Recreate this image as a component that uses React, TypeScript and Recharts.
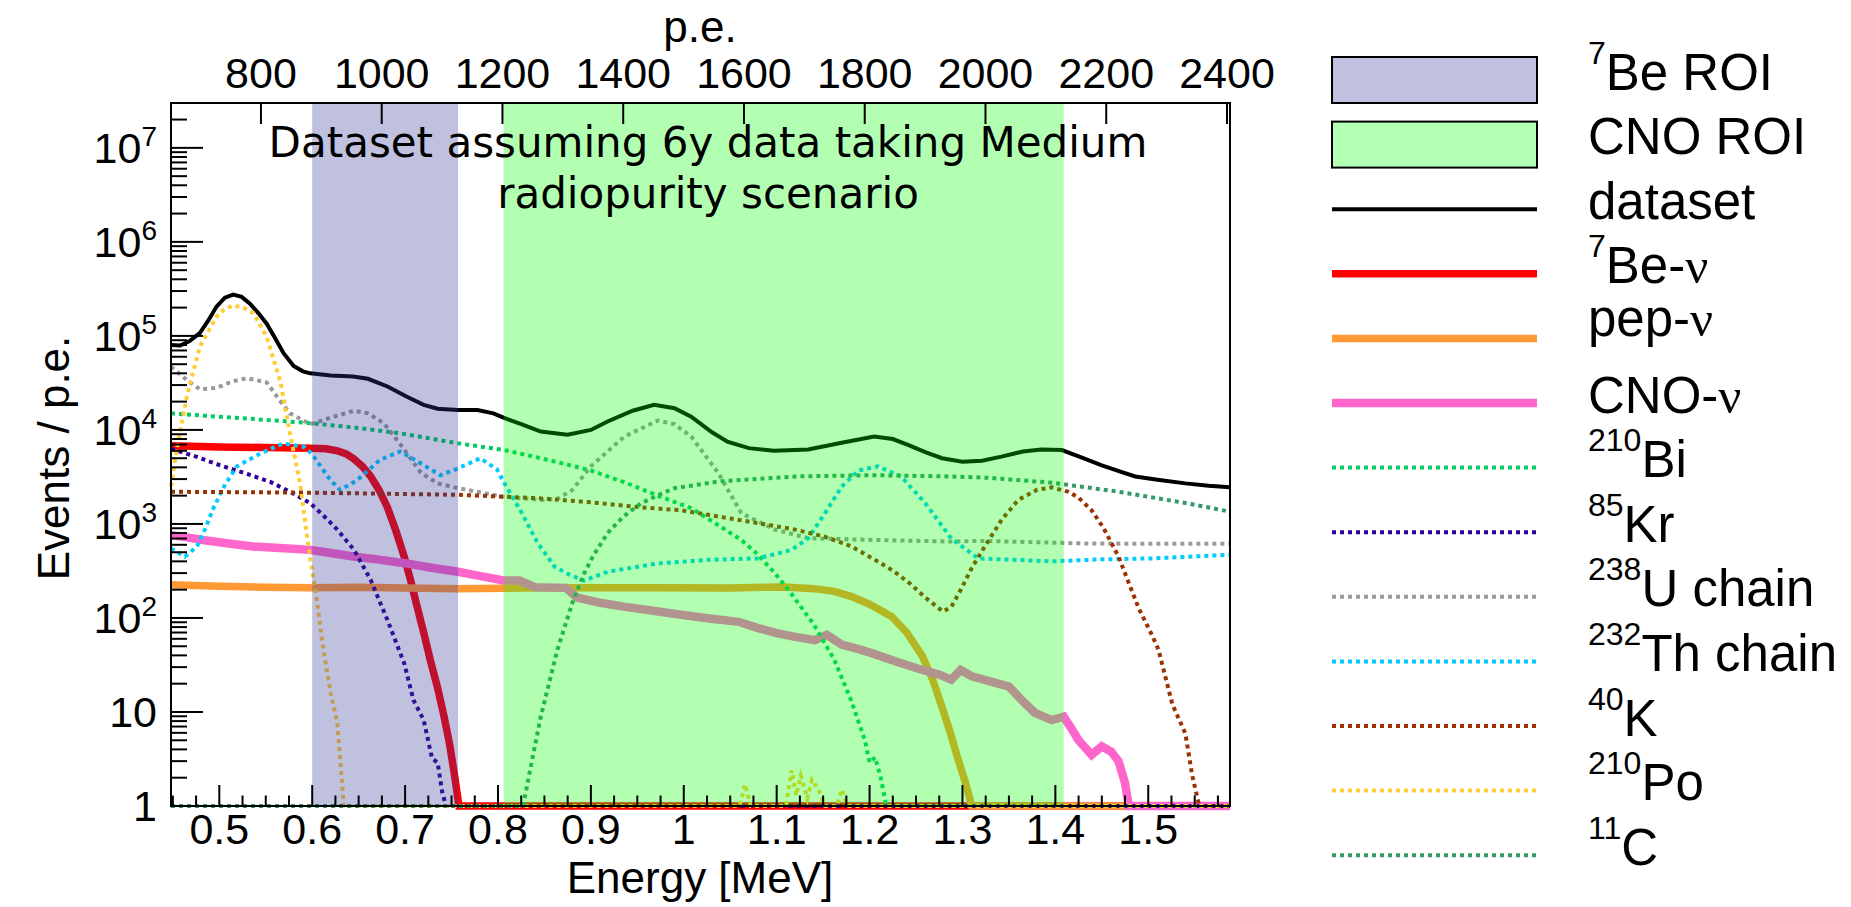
import { LineChart, Line, XAxis, YAxis, ReferenceArea } from "recharts";

// energy axis (MeV), p.e. axis on top, log y axis
const xDomain = [0.448, 1.588];
const peDomain = [651, 2405];
const yDomain = [1, 3.0e7];

const xMajorTicks = [0.5, 0.6, 0.7, 0.8, 0.9, 1.0, 1.1, 1.2, 1.3, 1.4, 1.5];
const peTicks = [800, 1000, 1200, 1400, 1600, 1800, 2000, 2200, 2400];
const yMajorTicks = [1, 10, 100, 1e3, 1e4, 1e5, 1e6, 1e7];

// regions of interest (MeV)
const beRoi = [0.6, 0.757];
const cnoRoi = [0.806, 1.409];

// [energy MeV, events / p.e.]
const dataset = [
  [0.448, 8.0e4], [0.458, 7.9e4], [0.468, 8.8e4], [0.479, 1.07e5], [0.488, 1.45e5], [0.497, 2.05e5],
  [0.506, 2.55e5], [0.515, 2.75e5], [0.524, 2.6e5], [0.533, 2.2e5], [0.542, 1.75e5], [0.551, 1.35e5],
  [0.56, 9.5e4], [0.569, 6.6e4], [0.58, 4.8e4], [0.59, 4.2e4], [0.598, 4.0e4], [0.62, 3.8e4],
  [0.644, 3.7e4], [0.66, 3.5e4], [0.681, 2.9e4], [0.702, 2.25e4], [0.72, 1.85e4], [0.735, 1.68e4],
  [0.757, 1.63e4], [0.778, 1.63e4], [0.795, 1.5e4], [0.806, 1.35e4], [0.825, 1.15e4], [0.846, 9.6e3],
  [0.875, 8.9e3], [0.9, 1.0e4], [0.918, 1.23e4], [0.945, 1.6e4], [0.968, 1.85e4], [0.99, 1.7e4],
  [1.008, 1.38e4], [1.03, 9.5e3], [1.047, 7.5e3], [1.07, 6.4e3], [1.097, 6.0e3], [1.134, 6.2e3],
  [1.17, 7.3e3], [1.205, 8.5e3], [1.225, 8.0e3], [1.242, 6.9e3], [1.26, 5.8e3], [1.278, 5.0e3],
  [1.3, 4.6e3], [1.321, 4.7e3], [1.342, 5.2e3], [1.365, 5.9e3], [1.385, 6.2e3], [1.407, 6.1e3],
  [1.43, 5.0e3], [1.45, 4.2e3], [1.47, 3.6e3], [1.486, 3.2e3], [1.51, 2.95e3], [1.54, 2.7e3],
  [1.565, 2.55e3], [1.588, 2.45e3],
];

const be7 = [
  [0.448, 6.8e3], [0.5, 6.6e3], [0.55, 6.5e3], [0.598, 6.4e3], [0.615, 6.3e3], [0.627, 6.0e3],
  [0.636, 5.6e3], [0.644, 5.0e3], [0.654, 4.1e3], [0.663, 3.2e3], [0.672, 2.3e3], [0.681, 1.5e3],
  [0.69, 850], [0.699, 450], [0.706, 250], [0.713, 131], [0.72, 70], [0.727, 36], [0.735, 18],
  [0.742, 8.9], [0.748, 4.5], [0.753, 2.2], [0.758, 1], [1.588, 1],
];

const pep = [
  [0.448, 225], [0.5, 218], [0.55, 212], [0.6, 210], [0.65, 212], [0.7, 208], [0.757, 204],
  [0.806, 207], [0.85, 210], [0.911, 209], [0.97, 210], [1.05, 208], [1.108, 214], [1.14, 205],
  [1.162, 192], [1.18, 170], [1.2, 140], [1.224, 103], [1.24, 70], [1.257, 39], [1.268, 22],
  [1.277, 12], [1.287, 6], [1.295, 3.2], [1.303, 1.8], [1.31, 1], [1.588, 1],
];

const cno = [
  [0.448, 760], [0.465, 720], [0.482, 675], [0.51, 620], [0.536, 575], [0.565, 555], [0.598, 530],
  [0.62, 490], [0.644, 450], [0.67, 420], [0.698, 385], [0.73, 340], [0.757, 310], [0.78, 280],
  [0.806, 250], [0.823, 250], [0.84, 212], [0.873, 209], [0.885, 165], [0.91, 145], [0.935, 132],
  [0.965, 120], [0.997, 108], [1.03, 98], [1.059, 91], [1.08, 78], [1.1, 69], [1.12, 63],
  [1.141, 58], [1.154, 66], [1.17, 52], [1.19, 46], [1.203, 42], [1.23, 34], [1.257, 28],
  [1.275, 25], [1.288, 22], [1.298, 28], [1.31, 24], [1.324, 22], [1.35, 18.6], [1.365, 13],
  [1.378, 9.8], [1.396, 8.2], [1.409, 8.9], [1.418, 6.5], [1.425, 5.0], [1.439, 3.5], [1.45, 4.3],
  [1.46, 3.8], [1.468, 3.0], [1.475, 1.75], [1.479, 1], [1.588, 1],
];

const bi210 = [
  [0.448, 1.5e4], [0.5, 1.38e4], [0.55, 1.28e4], [0.598, 1.18e4], [0.65, 1.05e4], [0.695, 9.2e3],
  [0.757, 7.2e3], [0.807, 6.1e3], [0.846, 5.0e3], [0.878, 4.2e3], [0.9, 3.7e3], [0.935, 2.8e3],
  [0.972, 2.0e3], [1.008, 1.47e3], [1.035, 1.0e3], [1.062, 675], [1.079, 480], [1.098, 300],
  [1.116, 180], [1.14, 85], [1.162, 36], [1.18, 13.4], [1.195, 5], [1.2, 2.9], [1.206, 3.3],
  [1.212, 2], [1.218, 1], [1.588, 1],
];

const kr85 = [
  [0.448, 6.3e3], [0.475, 5.2e3], [0.501, 4.2e3], [0.53, 3.4e3], [0.555, 2.8e3], [0.58, 2.1e3],
  [0.598, 1.66e3], [0.615, 1.15e3], [0.627, 870], [0.645, 530], [0.663, 253], [0.681, 95],
  [0.699, 33], [0.709, 13.4], [0.72, 8.2], [0.729, 3.2], [0.735, 2.9], [0.74, 1.4], [0.744, 1],
  [1.588, 1],
];

const u238 = [
  [0.448, 4.7e4], [0.465, 3.4e4], [0.479, 2.7e4], [0.497, 2.8e4], [0.515, 3.3e4], [0.53, 3.55e4],
  [0.551, 3.2e4], [0.566, 2.0e4], [0.576, 1.5e4], [0.598, 1.15e4], [0.623, 1.38e4], [0.645, 1.6e4],
  [0.66, 1.5e4], [0.677, 1.18e4], [0.695, 7.0e3], [0.717, 3.5e3], [0.735, 2.7e3], [0.757, 2.4e3],
  [0.806, 1.95e3], [0.846, 1.8e3], [0.864, 1.85e3], [0.88, 2.3e3], [0.9, 4.1e3], [0.936, 8.5e3],
  [0.972, 1.26e4], [0.99, 1.15e4], [1.008, 8.5e3], [1.037, 3.5e3], [1.062, 1.3e3], [1.098, 870],
  [1.134, 705], [1.205, 675], [1.288, 650], [1.321, 660], [1.432, 620], [1.5, 615], [1.588, 615],
];

const th232 = [
  [0.448, 550], [0.463, 450], [0.476, 575], [0.485, 900], [0.494, 1.5e3], [0.506, 2.6e3],
  [0.519, 4.1e3], [0.544, 5.6e3], [0.569, 7.2e3], [0.591, 6.6e3], [0.6, 5.5e3], [0.609, 4.1e3],
  [0.62, 2.9e3], [0.63, 2.3e3], [0.648, 2.9e3], [0.673, 4.8e3], [0.695, 5.9e3], [0.717, 4.4e3],
  [0.738, 3.3e3], [0.757, 3.9e3], [0.781, 5.0e3], [0.799, 3.8e3], [0.806, 2.8e3], [0.824, 1.4e3],
  [0.843, 620], [0.861, 350], [0.878, 285], [0.893, 250], [0.918, 310], [0.972, 380], [1.026, 415],
  [1.08, 430], [1.116, 530], [1.134, 705], [1.152, 1.3e3], [1.17, 2.5e3], [1.188, 3.7e3],
  [1.209, 4.1e3], [1.234, 3.2e3], [1.26, 1.66e3], [1.288, 700], [1.317, 430], [1.396, 400],
  [1.45, 420], [1.504, 430], [1.588, 470],
];

const k40 = [
  [0.448, 2.2e3], [0.6, 2.15e3], [0.757, 2.04e3], [0.806, 1.95e3], [0.846, 1.87e3], [0.9, 1.7e3],
  [0.954, 1.5e3], [0.997, 1.4e3], [1.026, 1.25e3], [1.06, 1.1e3], [1.098, 950], [1.12, 870],
  [1.152, 730], [1.18, 580], [1.205, 420], [1.225, 320], [1.244, 230], [1.26, 165], [1.279, 117],
  [1.288, 131], [1.298, 198], [1.31, 340], [1.324, 575], [1.342, 1.1e3], [1.36, 1.8e3],
  [1.38, 2.3e3], [1.396, 2.45e3], [1.414, 2.2e3], [1.425, 1.9e3], [1.439, 1.4e3], [1.452, 900],
  [1.468, 450], [1.478, 250], [1.49, 125], [1.503, 69], [1.511, 46], [1.526, 12], [1.54, 5.9],
  [1.547, 2.2], [1.553, 1.2], [1.555, 1], [1.588, 1],
];

const po210 = [
  [0.448, 2.5e3], [0.454, 6.1e3], [0.465, 2.25e4], [0.479, 7.7e4], [0.497, 1.6e5], [0.506, 1.95e5],
  [0.515, 2.1e5], [0.526, 2.0e5], [0.537, 1.74e5], [0.551, 9.8e4], [0.566, 3.2e4], [0.576, 9.2e3],
  [0.587, 2.7e3], [0.594, 800], [0.598, 415], [0.605, 155], [0.612, 46], [0.62, 15.8], [0.627, 7.6],
  [0.63, 3.3], [0.634, 1], [1.06, 1], [1.066, 1.7], [1.072, 1], [1.11, 1], [1.116, 2.4],
  [1.121, 1.3], [1.126, 2.1], [1.133, 1.2], [1.138, 1.9], [1.145, 1.5], [1.152, 1], [1.165, 1],
  [1.17, 1.5], [1.176, 1], [1.588, 1],
];

const c11 = [
  [0.448, 1], [0.827, 1], [0.839, 4], [0.846, 8.9], [0.864, 46], [0.881, 155], [0.893, 300],
  [0.902, 450], [0.918, 800], [0.935, 1.2e3], [0.954, 1.66e3], [0.976, 2.1e3], [0.99, 2.4e3],
  [1.04, 2.85e3], [1.12, 3.2e3], [1.205, 3.3e3], [1.288, 3.2e3], [1.327, 3.1e3], [1.396, 2.75e3],
  [1.468, 2.2e3], [1.54, 1.67e3], [1.588, 1.35e3],
];

const FONT = "'Liberation Sans', Arial, Helvetica, sans-serif";
const SERIF = "'Liberation Serif', 'Times New Roman', serif";
const PLOT_FONT = "'DejaVu Sans', sans-serif";
const DOTS = "4 4";

const series = [
  { key: "dataset", data: dataset, color: "#000000", width: 4, dash: undefined },
  { key: "be7", data: be7, color: "#ff0000", width: 7.5, dash: undefined },
  { key: "pep", data: pep, color: "#ff9933", width: 7.5, dash: undefined },
  { key: "cno", data: cno, color: "#ff66cc", width: 8.5, dash: undefined },
  { key: "bi210", data: bi210, color: "#00cc66", width: 4, dash: DOTS },
  { key: "kr85", data: kr85, color: "#330099", width: 4, dash: DOTS },
  { key: "u238", data: u238, color: "#999999", width: 4, dash: DOTS },
  { key: "th232", data: th232, color: "#00ccff", width: 4, dash: DOTS },
  { key: "k40", data: k40, color: "#993300", width: 4, dash: DOTS },
  { key: "po210", data: po210, color: "#ffcc33", width: 4, dash: DOTS },
  { key: "c11", data: c11, color: "#339966", width: 4, dash: DOTS },
];

const legendRows = [
  { sup: "7", text: "Be ROI", box: "#c0c0e0" },
  { text: "CNO ROI", box: "#b3ffb3" },
  { text: "dataset", line: 0 },
  { sup: "7", text: "Be-", nu: true, line: 1 },
  { text: "pep-", nu: true, line: 2, lift: 12 },
  { text: "CNO-", nu: true, line: 3 },
  { sup: "210", text: "Bi", line: 4 },
  { sup: "85", text: "Kr", line: 5 },
  { sup: "238", text: "U chain", line: 6 },
  { sup: "232", text: "Th chain", line: 7 },
  { sup: "40", text: "K", line: 8 },
  { sup: "210", text: "Po", line: 9 },
  { sup: "11", text: "C", line: 10 },
];

const xTicks: number[] = [];
for (let i = 0; i <= 45; i++) xTicks.push(Math.round((0.45 + i * 0.025) * 1000) / 1000);
const yTicks: number[] = [];
yMajorTicks.forEach((d) => {
  yTicks.push(d);
  for (let m = 2; m <= 9; m++) if (m * d <= 2e7) yTicks.push(m * d);
});
const yMajorSet = new Set(yMajorTicks);
const isMajorX = (v: number) => Math.abs(v * 10 - Math.round(v * 10)) < 1e-6;

// invisible anchor so the p.e. axis gets laid out
const peAnchor = peDomain.map((pe) => ({ pe, v: 1 }));

function BottomTick(props: any) {
  const { x, y, payload } = props;
  const v = payload.value;
  const major = isMajorX(v);
  return (
    <g>
      <line x1={x} y1={y} x2={x} y2={y - (major ? 21 : 10.5)} stroke="#000" strokeWidth={2} />
      {major && (
        <text x={x} y={y + 38} textAnchor="middle" fontSize={43} fontFamily={FONT} fill="#000">
          {Math.abs(v - 1) < 1e-6 ? "1" : v.toFixed(1)}
        </text>
      )}
    </g>
  );
}

function TopTick(props: any) {
  const { x, y, payload } = props;
  return (
    <g>
      <line x1={x} y1={y} x2={x} y2={y + 21} stroke="#000" strokeWidth={2} />
      <text x={x} y={y - 15} textAnchor="middle" fontSize={43} fontFamily={FONT} fill="#000">
        {payload.value}
      </text>
    </g>
  );
}

function LeftTick(props: any) {
  const { x, y, payload } = props;
  const v = payload.value;
  const major = yMajorSet.has(v);
  const exp = Math.round(Math.log10(v));
  return (
    <g>
      <line x1={x} y1={y} x2={x + (major ? 32 : 16)} y2={y} stroke="#000" strokeWidth={2} />
      {major && (
        <text x={x - 14} y={y + 15} textAnchor="end" fontSize={43} fontFamily={FONT} fill="#000">
          {exp === 0 ? "1" : "10"}
          {exp >= 2 && (
            <tspan fontSize={28} dy={-17}>
              {exp}
            </tspan>
          )}
        </text>
      )}
    </g>
  );
}

function Overlay() {
  return (
    <svg width={1851} height={907} style={{ position: "absolute", left: 0, top: 0, pointerEvents: "none" }}>
      <text x={700} y={42} textAnchor="middle" fontSize={44} fontFamily={FONT}>p.e.</text>
      <text x={700} y={893} textAnchor="middle" fontSize={44} fontFamily={FONT}>Energy [MeV]</text>
      <text transform="translate(69,458) rotate(-90)" textAnchor="middle" fontSize={44} fontFamily={FONT}>
        Events / p.e.
      </text>
      <text x={708} y={157} textAnchor="middle" fontSize={42} fontFamily={PLOT_FONT}>
        Dataset assuming 6y data taking Medium
      </text>
      <text x={708} y={208} textAnchor="middle" fontSize={42} fontFamily={PLOT_FONT}>
        radiopurity scenario
      </text>

      {legendRows.map((row, i) => {
        const cy = 80 + i * 64.6;
        const base = cy + 9.5 - (row.lift || 0);
        const s = row.line !== undefined ? series[row.line] : null;
        return (
          <g key={i}>
            {row.box && (
              <rect x={1332} y={cy - 23} width={205} height={46} fill={row.box} stroke="#000" strokeWidth={2} />
            )}
            {s && (
              <line x1={1332} x2={1537} y1={cy} y2={cy} stroke={s.color} strokeWidth={s.width} strokeDasharray={s.dash} />
            )}
            <text x={1588} y={base} fontSize={51} fontFamily={FONT} fill="#000">
              {row.sup && (
                <tspan fontSize={32} dy={-26}>
                  {row.sup}
                </tspan>
              )}
              <tspan dy={row.sup ? 26 : 0}>{row.text}</tspan>
              {row.nu && <tspan fontFamily={SERIF}>ν</tspan>}
            </text>
          </g>
        );
      })}
    </svg>
  );
}

export default function App() {
  return (
    <div style={{ position: "absolute", left: 0, top: 0, width: 1851, height: 907, background: "#fff" }}>
      <LineChart width={1851} height={907} margin={{ top: 73, right: 621, bottom: 71, left: 111 }}>
        <XAxis
          xAxisId="e"
          dataKey="e"
          type="number"
          domain={xDomain}
          ticks={xTicks}
          interval={0}
          height={30}
          tick={BottomTick}
          tickLine={false}
          axisLine={false}
          tickSize={0}
          tickMargin={0}
        />
        <XAxis
          xAxisId="pe"
          dataKey="pe"
          orientation="top"
          type="number"
          domain={peDomain}
          allowDataOverflow
          ticks={peTicks}
          interval={0}
          height={30}
          tick={TopTick}
          tickLine={false}
          axisLine={false}
          tickSize={0}
          tickMargin={0}
        />
        <YAxis
          yAxisId="y"
          type="number"
          scale="log"
          domain={yDomain}
          ticks={yTicks}
          interval={0}
          width={60}
          tick={LeftTick}
          tickLine={false}
          axisLine={false}
          tickSize={0}
          tickMargin={0}
        />
        <Line
          xAxisId="pe"
          yAxisId="y"
          data={peAnchor}
          dataKey="v"
          stroke="none"
          dot={false}
          activeDot={false}
          legendType="none"
          isAnimationActive={false}
        />
        {series.map((s) => (
          <Line
            key={s.key}
            xAxisId="e"
            yAxisId="y"
            data={s.data.map(([e, v]) => ({ e, v }))}
            dataKey="v"
            type="linear"
            stroke={s.color}
            strokeWidth={s.width}
            strokeDasharray={s.dash}
            dot={false}
            activeDot={false}
            isAnimationActive={false}
          />
        ))}
        <ReferenceArea
          xAxisId="e"
          yAxisId="y"
          x1={beRoi[0]}
          x2={beRoi[1]}
          y1={yDomain[0]}
          y2={yDomain[1]}
          fill="#333399"
          fillOpacity={0.31}
          stroke="none"
          ifOverflow="visible"
          zIndex={450}
        />
        <ReferenceArea
          xAxisId="e"
          yAxisId="y"
          x1={cnoRoi[0]}
          x2={cnoRoi[1]}
          y1={yDomain[0]}
          y2={yDomain[1]}
          fill="#00ff00"
          fillOpacity={0.3}
          stroke="none"
          ifOverflow="visible"
          zIndex={450}
        />
        <ReferenceArea
          xAxisId="e"
          yAxisId="y"
          x1={xDomain[0]}
          x2={xDomain[1]}
          y1={yDomain[0]}
          y2={yDomain[1]}
          fill="none"
          stroke="#000"
          strokeWidth={2}
          ifOverflow="visible"
          zIndex={460}
        />
      </LineChart>
      <Overlay />
    </div>
  );
}
